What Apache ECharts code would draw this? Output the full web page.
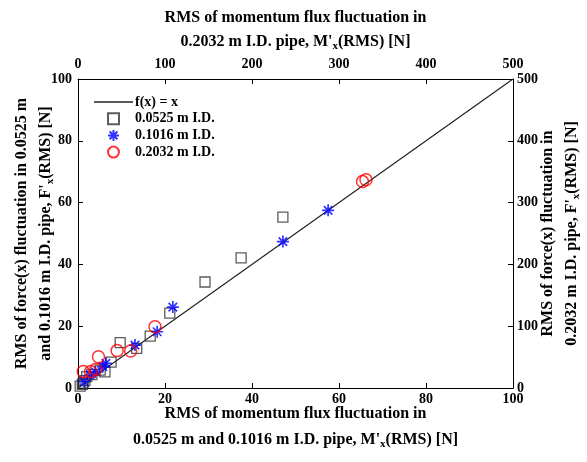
<!DOCTYPE html>
<html>
<head>
<meta charset="utf-8">
<script src="https://cdn.jsdelivr.net/npm/echarts@6/dist/echarts.min.js"></script>
<style>
  html, body { margin: 0; padding: 0; background: #fff; }
  #chart { width: 587px; height: 462px; }
</style>
</head>
<body>
<div id="chart"></div>
<script>
// Identity reference line f(x) = x on the 0..100 axes
const identityLine = [[0, 0], [100, 100]];

// 0.0525 m I.D. pipe: [M'x(RMS), F'x(RMS)] in N (bottom/left axes)
const pipe0525 = [
  [0.5, 0.6], [1.0, 1.2], [1.2, 1.6], [1.6, 2.4], [2.0, 3.7], [3.2, 4.3],
  [5.1, 5.8], [6.2, 5.2], [7.6, 8.4], [9.7, 14.7], [13.5, 12.8],
  [16.6, 16.8], [21.1, 24.2], [29.2, 34.3], [37.5, 42.1], [47.1, 55.3]
];

// 0.1016 m I.D. pipe: [M'x(RMS), F'x(RMS)] in N (bottom/left axes)
const pipe1016 = [
  [1.4, 2.1], [2.8, 4.2], [4.0, 5.2], [5.7, 6.9], [6.4, 8.0],
  [13.1, 13.9], [18.2, 18.2], [21.8, 26.2], [47.1, 47.4], [57.5, 57.5]
];

// 0.2032 m I.D. pipe: [M'x(RMS), F'x(RMS)] in N (top/right axes, 0..500)
const pipe2032 = [
  [6, 26.5], [14.5, 26.5], [20.5, 30], [23.5, 50.5], [45, 60.5],
  [60.5, 60], [88.5, 99], [327, 334], [331, 337]
];

// Tick settings for the two axis pairs
const smallAxisMax = 100, smallAxisStep = 20;
const largeAxisMax = 500, largeAxisStep = 100;

const FONT = '"Liberation Serif", "Times New Roman", serif';
const richName = {
  sub: { fontSize: 11, fontWeight: 'bold', fontFamily: FONT, color: '#000', padding: [9, 0, 0, 0] }
};
function nameStyle(lineHeight) {
  return {
    fontFamily: FONT, fontWeight: 'bold', fontSize: 16, color: '#000',
    lineHeight: lineHeight, rich: richName
  };
}
const labelStyle = { fontFamily: FONT, fontWeight: 'bold', fontSize: 14, color: '#000' };

function axisCommon(extra) {
  return Object.assign({
    type: 'value',
    axisLine: { show: true, onZero: false, lineStyle: { color: '#000', width: 1 } },
    axisTick: { show: true, inside: true, length: 5, lineStyle: { color: '#000' } },
    splitLine: { show: false },
    nameLocation: 'middle',
    nameMoveOverlap: false,
    nameTextStyle: nameStyle(24),
    axisLabel: Object.assign({}, labelStyle)
  }, extra);
}

// Marker shapes: open square and eight-armed asterisk
const squareMark = 'path://M0,0L10,0L10,10L0,10Z';
const asterisk = 'path://M0,-10L0,10M-10,0L10,0M-7.07,-7.07L7.07,7.07M-7.07,7.07L7.07,-7.07';
const lineIcon = 'path://M0,0L40,0L40,1.3L0,1.3Z';

const chart = echarts.init(document.getElementById('chart'), null, { renderer: 'canvas' });
chart.setOption({
  animation: false,
  backgroundColor: '#fff',
  grid: { left: 78, right: 74, top: 79, bottom: 74, containLabel: false, outerBoundsMode: 'none' },
  legend: {
    left: 94, top: 95, orient: 'vertical', padding: 0,
    itemWidth: 39, itemHeight: 11, itemGap: 2.7,
    textStyle: { fontFamily: FONT, fontWeight: 'bold', fontSize: 14, color: '#000', lineHeight: 14, padding: [0, 0, 0, -3] },
    data: [
      { name: 'f(x) = x', icon: lineIcon },
      '0.0525 m I.D.', '0.1016 m I.D.', '0.2032 m I.D.'
    ]
  },
  xAxis: [
    axisCommon({
      position: 'bottom', min: 0, max: smallAxisMax, interval: smallAxisStep,
      name: 'RMS of momentum flux fluctuation in\n0.0525 m and 0.1016 m I.D. pipe, M\'{sub|x}(RMS) [N]',
      nameGap: 13, nameTextStyle: nameStyle(26),
      axisLabel: Object.assign({ margin: 4 }, labelStyle)
    }),
    axisCommon({
      position: 'top', min: 0, max: largeAxisMax, interval: largeAxisStep,
      name: 'RMS of momentum flux fluctuation in\n0.2032 m I.D. pipe, M\'{sub|x}(RMS) [N]',
      nameGap: 25, axisLabel: Object.assign({ margin: 8 }, labelStyle)
    })
  ],
  yAxis: [
    axisCommon({
      position: 'left', min: 0, max: smallAxisMax, interval: smallAxisStep,
      name: 'RMS of force(x) fluctuation in 0.0525 m\nand 0.1016 m I.D. pipe, F\'{sub|x}(RMS) [N]',
      nameRotate: 90, nameGap: 20, axisLabel: Object.assign({ margin: 6 }, labelStyle)
    }),
    axisCommon({
      position: 'right', min: 0, max: largeAxisMax, interval: largeAxisStep,
      name: 'RMS of force(x) fluctuation in\n0.2032 m I.D. pipe, F\'{sub|x}(RMS) [N]',
      nameRotate: 90, nameGap: 23, axisLabel: Object.assign({ margin: 4 }, labelStyle)
    })
  ],
  series: [
    {
      name: 'f(x) = x', type: 'line', data: identityLine,
      xAxisIndex: 0, yAxisIndex: 0, symbol: 'none',
      lineStyle: { color: '#222', width: 1.2 }, itemStyle: { color: '#222' }, z: 1
    },
    {
      name: '0.0525 m I.D.', type: 'scatter', data: pipe0525,
      xAxisIndex: 0, yAxisIndex: 0, symbol: squareMark, symbolSize: 10,
      itemStyle: { color: 'rgba(0,0,0,0)', borderColor: '#333', borderWidth: 1.3 }, z: 2
    },
    {
      name: '0.1016 m I.D.', type: 'scatter', data: pipe1016,
      xAxisIndex: 0, yAxisIndex: 0, symbol: asterisk, symbolSize: 12,
      itemStyle: { color: 'rgba(0,0,0,0)', borderColor: '#0000ff', borderWidth: 1.7 }, z: 3
    },
    {
      name: '0.2032 m I.D.', type: 'scatter', data: pipe2032,
      xAxisIndex: 1, yAxisIndex: 1, symbol: 'circle', symbolSize: 12,
      itemStyle: { color: 'rgba(0,0,0,0)', borderColor: '#ff0000', borderWidth: 1.5 }, z: 4
    }
  ]
});
</script>
</body>
</html>
